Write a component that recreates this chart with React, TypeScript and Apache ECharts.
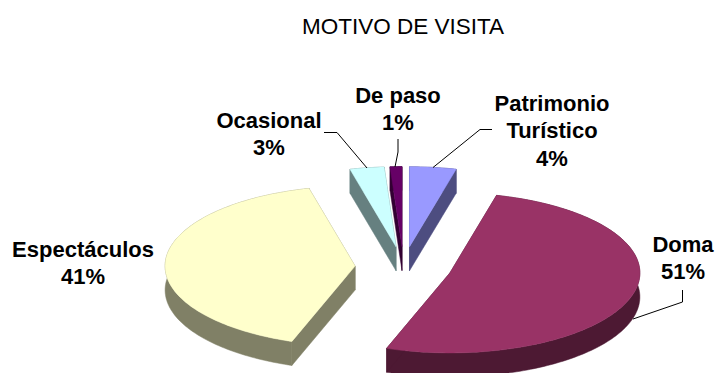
import React, { useEffect, useRef } from "react";
import * as echarts from "echarts";

const categories = ["Patrimonio\nTurístico", "Doma", "Espectáculos", "Ocasional", "De paso"];
const values = [3.95, 51.45, 40.7, 2.9, 1];
const topColors = ["#9999FF", "#993366", "#FFFFCC", "#CCFFFF", "#660066"];
const wallColors = ["#4D4D80", "#4D1933", "#808066", "#668080", "#330033"];
const labelCentres = [[552, 130.5], [683, 258], [83, 263], [269, 134], [398, 109]];
const leaders = [
  [[433, 167.5], [480, 129.5], [492, 129.5]],
  [[633, 319], [682.5, 302], [682.5, 290]],
  [],
  [[367, 168], [337, 132.5], [324, 132.5]],
  [[395, 167], [398, 152], [398, 139]],
];

const FONT_FAMILY = '"Liberation Sans", Arial, sans-serif';
const CX = 403.5, CY = 267, RX = 190, RY = 80, DEPTH = 24, EXPLODE = 0.255;
const total = values.reduce((a, b) => a + b, 0);

function renderSlice(params: any, api: any) {
  const i = params.dataIndex;
  const value = api.value(1);
  const before = values.slice(0, i).reduce((a, b) => a + b, 0);
  const start = (before / total) * Math.PI * 2;
  const end = ((before + value) / total) * Math.PI * 2;
  const mid = (start + end) / 2;
  const ox = CX + EXPLODE * RX * Math.sin(mid);
  const oy = CY - EXPLODE * RY * Math.cos(mid);
  const steps = Math.max(4, Math.ceil((end - start) / 0.02));
  const arc: number[][] = [];
  for (let k = 0; k <= steps; k++) {
    const t = start + ((end - start) * k) / steps;
    arc.push([ox + RX * Math.sin(t), oy - RY * Math.cos(t)]);
  }
  const down = (p: number[]) => [p[0], p[1] + DEPTH];
  const wallStyle = { fill: wallColors[i], stroke: wallColors[i], lineWidth: 0.5 };
  const apex = [ox, oy];
  const children: any[] = [
    { type: "polygon", shape: { points: [...arc, ...arc.slice().reverse().map(down)] }, style: wallStyle },
    { type: "polygon", shape: { points: [apex, arc[0], down(arc[0]), down(apex)] }, style: wallStyle },
    { type: "polygon", shape: { points: [apex, arc[steps], down(arc[steps]), down(apex)] }, style: wallStyle },
    { type: "polygon", shape: { points: [apex, ...arc] }, style: { fill: topColors[i], stroke: topColors[i], lineWidth: 0.5 } },
  ];
  if (leaders[i].length) {
    children.push({ type: "polyline", shape: { points: leaders[i] }, style: { fill: "none", stroke: "#000000", lineWidth: 1 } });
  }
  children.push({
    type: "text",
    x: labelCentres[i][0],
    y: labelCentres[i][1],
    style: {
      text: `${categories[i]}\n${Math.round((value / total) * 100)}%`,
      font: `bold 22px ${FONT_FAMILY}`,
      lineHeight: 27.5,
      fill: "#000000",
      align: "center",
      verticalAlign: "middle",
    },
  });
  return { type: "group", children };
}

export default function App() {
  const ref = useRef<HTMLDivElement>(null);
  useEffect(() => {
    const chart = echarts.init(ref.current!, undefined, { renderer: "svg" });
    chart.setOption({
      animation: false,
      backgroundColor: "#FFFFFF",
      title: {
        text: "MOTIVO DE VISITA",
        left: 398,
        top: 10,
        textAlign: "center",
        textStyle: { color: "#000000", fontFamily: FONT_FAMILY, fontSize: 22.5, fontWeight: "normal" },
      },
      series: [
        {
          type: "custom",
          coordinateSystem: "none",
          renderItem: renderSlice,
          silent: true,
          data: categories.map((c, i) => ({ name: c, value: [i, values[i]] })),
          encode: { value: 1 },
        },
      ],
    });
    return () => chart.dispose();
  }, []);
  return <div ref={ref} style={{ position: "fixed", left: 0, top: 0, width: 715, height: 373 }} />;
}
